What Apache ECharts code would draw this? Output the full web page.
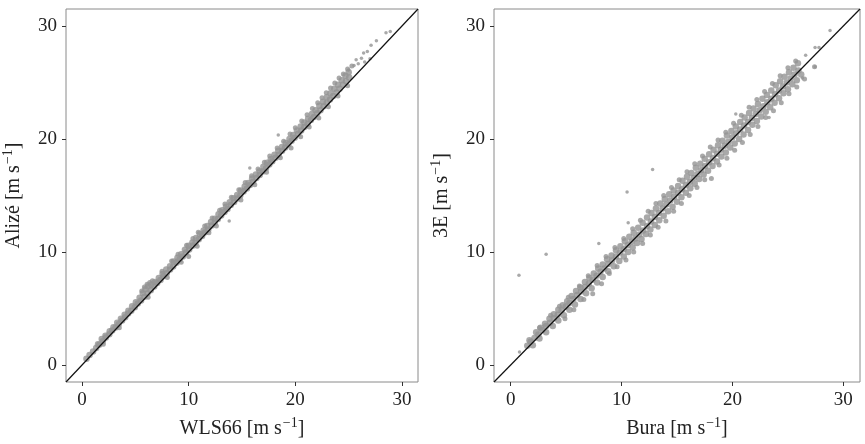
<!DOCTYPE html>
<html>
<head>
<meta charset="utf-8">
<script src="https://cdn.jsdelivr.net/npm/echarts@6/dist/echarts.min.js"></script>
<style>
  html, body { margin: 0; padding: 0; background: #fff; }
  #chart { width: 865px; height: 444px; }
</style>
</head>
<body>
<div id="chart"></div>
<script>
// tick labels shared by both panels
var tickValues = [0, 10, 20, 30];
var axisRange = [-1.5, 31.5];
var oneToOne = [[-1.5, -1.5], [31.5, 31.5]];

// left panel: WLS66 (x) vs Alizé (y)
var alizeNear = [[0.42,0.55],[0.71,0.88],[1.04,1.2],[1.33,1.5],[1.62,1.8],[1.95,2.1],[2.24,2.43],[2.56,2.72],[2.83,3.05],[3.15,3.32],[3.44,3.6],[3.76,3.95],[4.05,4.22],[4.33,4.55],[4.62,4.8],[4.95,5.12],[5.23,5.45],[5.54,5.72],[5.86,6.05],[6.14,6.35],[6.45,6.62],[6.77,6.95],[7.05,7.25],[7.36,7.52],[7.64,7.85],[7.95,8.12],[8.26,8.45],[8.55,8.72],[8.86,9.05],[9.14,9.33],[9.45,9.6],[9.76,9.95],[10.05,10.22],[10.36,10.55],[10.64,10.8],[10.95,11.14],[11.26,11.42],[11.55,11.75],[11.84,12.0],[12.16,12.35],[12.45,12.6],[12.74,12.93],[13.05,13.22],[13.36,13.55],[13.64,13.8],[13.95,14.15],[14.26,14.42],[14.55,14.74],[14.84,15.0],[15.15,15.35],[15.46,15.62],[15.75,15.93],[16.04,16.22],[16.35,16.55],[16.66,16.82],[16.94,17.13],[17.25,17.42],[17.56,17.75],[17.84,18.02],[18.15,18.35],[18.44,18.6],[18.76,18.95],[19.05,19.25],[19.34,19.52],[19.65,19.85],[19.94,20.12],[20.26,20.46],[20.55,20.75],[20.84,21.05],[21.15,21.33],[21.46,21.68],[21.74,21.95],[22.05,22.28],[22.36,22.55],[22.66,22.9],[22.95,23.2],[23.25,23.5],[23.55,23.8],[23.86,24.12],[24.15,24.45],[24.46,24.8],[24.75,25.1],[25.05,25.45]];
var alizeMid = [[1.5,1.85],[1.85,2.3],[2.2,2.6],[2.6,3.0],[2.95,3.35],[3.3,3.75],[3.65,4.1],[4.0,4.45],[4.35,4.8],[4.7,5.2],[5.05,5.55],[5.4,5.95],[5.7,6.35],[5.95,6.7],[6.2,6.95],[6.5,7.1],[6.85,7.35],[7.2,7.7],[7.55,8.05],[7.9,8.45],[8.25,8.75],[8.6,9.15],[8.95,9.5],[9.3,9.8],[9.65,10.2],[10.0,10.55],[10.35,10.85],[10.7,11.25],[11.05,11.6],[11.4,11.9],[11.75,12.3],[12.1,12.65],[12.45,12.95],[12.8,13.35],[13.15,13.7],[13.5,14.0],[13.85,14.4],[14.2,14.75],[14.55,15.05],[14.9,15.45],[15.25,15.8],[15.6,16.1],[15.95,16.5],[16.3,16.85],[16.65,17.15],[17.0,17.55],[17.35,17.9],[17.7,18.2],[18.05,18.6],[18.4,18.95],[18.75,19.3],[19.1,19.65],[19.45,20.0],[19.8,20.35],[20.15,20.75],[20.5,21.1],[20.85,21.45],[21.2,21.8],[21.55,22.2],[21.9,22.55],[22.25,22.95],[22.6,23.3],[22.95,23.7],[23.3,24.05],[23.65,24.45],[24.0,24.8],[24.35,25.2],[24.7,25.6],[25.0,25.9]];
var alizeHigh = [[5.6,6.55],[5.85,6.9],[6.1,7.15],[6.35,7.3],[6.6,7.45],[7.5,8.3],[8.4,9.2],[9.0,9.8],[9.8,10.6],[10.4,11.2],[10.9,11.75],[11.5,12.3],[12.2,13.0],[12.9,13.7],[13.4,14.25],[14.0,14.85],[14.7,15.5],[15.3,16.15],[15.9,16.75],[16.5,17.35],[17.1,17.95],[17.6,18.5],[18.3,19.2],[18.9,19.8],[19.5,20.45],[20.0,21.0],[20.6,21.6],[21.1,22.15],[21.6,22.7],[22.1,23.2],[22.5,23.65],[22.9,24.1],[23.3,24.5],[23.7,24.95],[24.1,25.4],[24.5,25.75],[24.9,26.2],[25.3,26.45]];
var alizeLow = [[2.0,1.85],[3.5,3.3],[6.2,6.0],[8.0,7.75],[9.3,9.1],[10.0,9.6],[10.8,10.5],[11.9,11.7],[12.6,12.3],[14.9,14.6],[16.2,15.95],[17.3,17.05],[18.6,18.35],[19.6,19.2],[20.5,20.2],[21.3,21.05],[22.2,21.85],[23.1,22.85],[24.0,23.8],[24.9,24.7]];
var alizeStray = [[13.8,12.75],[15.73,17.43],[18.4,20.35],[25.0,26.1],[25.5,26.5],[25.7,27.0],[25.9,26.65],[26.2,27.15],[26.4,27.6],[26.5,26.8],[26.75,27.75],[27.0,27.1],[27.1,28.3],[27.6,28.7],[28.5,29.4],[28.9,29.5]];

// right panel: Bura (x) vs 3E (y)
var e3Core = [[1.5,1.7],[1.8,2.05],[2.15,2.4],[2.5,2.7],[2.85,3.1],[3.2,3.45],[3.55,3.75],[3.9,4.15],[4.25,4.45],[4.6,4.85],[4.95,5.15],[5.3,5.5],[5.65,5.85],[6.0,6.2],[6.35,6.5],[6.7,6.9],[7.05,7.2],[7.4,7.55],[7.75,7.9],[8.1,8.25],[8.45,8.55],[8.8,8.95],[9.15,9.25],[9.5,9.6],[9.85,9.95],[10.2,10.25],[10.55,10.6],[10.9,10.9],[11.25,11.2],[11.6,11.55],[11.95,11.9],[12.3,12.3],[12.65,12.7],[13.0,13.1],[13.35,13.45],[13.7,13.85],[14.05,14.2],[14.4,14.55],[14.75,14.9],[15.1,15.25],[15.45,15.55],[15.8,15.9],[16.15,16.2],[16.5,16.55],[16.85,16.9],[17.2,17.25],[17.55,17.6],[17.9,17.95],[18.25,18.3],[18.6,18.7],[18.95,19.05],[19.3,19.4],[19.65,19.75],[20.0,20.15],[20.35,20.5],[20.7,20.85],[21.05,21.2],[21.4,21.5],[21.75,21.85],[22.1,22.2],[22.45,22.55],[22.8,22.9],[23.15,23.25],[23.5,23.55],[23.85,23.95],[24.2,24.3],[24.55,24.65],[24.9,25.0],[25.25,25.35],[25.6,25.7],[25.95,26.05]];
var e3Above = [[1.7,2.2],[2.3,2.9],[2.7,3.3],[3.1,3.65],[3.5,4.1],[3.9,4.5],[4.3,4.9],[4.7,5.3],[5.1,5.65],[5.5,6.1],[5.9,6.55],[6.3,6.85],[6.7,7.35],[7.1,7.7],[7.5,8.1],[7.9,8.55],[8.3,8.9],[8.7,9.35],[9.1,9.7],[9.5,10.15],[9.9,10.5],[10.3,10.95],[10.7,11.35],[11.1,11.7],[11.5,12.15],[11.9,12.6],[12.3,13.05],[12.7,13.45],[13.1,13.85],[13.5,14.3],[13.9,14.7],[14.3,15.1],[14.7,15.45],[15.1,15.85],[15.5,16.3],[15.9,16.65],[16.3,17.0],[16.7,17.45],[17.1,17.8],[17.5,18.25],[17.9,18.65],[18.3,19.05],[18.7,19.45],[19.1,19.85],[19.5,20.3],[19.9,20.7],[20.3,21.1],[20.7,21.5],[21.1,21.9],[21.5,22.3],[21.9,22.7],[22.3,23.1],[22.7,23.55],[23.1,23.9],[23.5,24.3],[23.9,24.75],[24.3,25.1],[24.7,25.5],[25.1,25.9],[25.5,26.3],[25.9,26.7]];
var e3Below = [[2.0,1.75],[2.6,2.35],[3.2,2.9],[3.8,3.45],[4.3,3.95],[4.8,4.4],[5.3,4.9],[5.8,5.35],[6.3,5.85],[6.8,6.35],[7.3,6.8],[7.8,7.3],[8.3,7.8],[8.8,8.3],[9.3,8.75],[9.8,9.2],[10.2,9.6],[10.6,10.0],[11.0,10.4],[11.4,10.8],[11.8,11.15],[12.2,11.6],[12.6,12.0],[13.0,12.4],[13.4,12.8],[13.8,13.2],[14.2,13.6],[14.6,14.0],[15.0,14.45],[15.4,14.85],[15.8,15.25],[16.2,15.65],[16.6,16.05],[17.0,16.45],[17.4,16.85],[17.8,17.2],[18.2,17.6],[18.6,18.0],[19.0,18.45],[19.4,18.8],[19.8,19.25],[20.2,19.6],[20.6,20.0],[21.0,20.4],[21.4,20.8],[21.8,21.25],[22.2,21.6],[22.6,22.0],[23.0,22.4],[23.4,22.8],[23.8,23.2],[24.2,23.6],[24.6,24.05],[25.0,24.4],[25.4,24.85],[25.8,25.2],[26.2,25.7]];
var e3FarAbove = [[2.6,3.3],[3.6,4.4],[4.4,5.2],[5.2,6.0],[6.2,7.0],[7.0,7.9],[7.8,8.8],[8.6,9.6],[9.4,10.4],[10.2,11.2],[11.0,12.05],[11.7,12.8],[12.4,13.6],[13.1,14.3],[13.8,15.0],[14.5,15.7],[15.2,16.4],[15.9,17.1],[16.6,17.8],[17.3,18.5],[18.0,19.3],[18.7,19.9],[19.4,20.6],[20.1,21.4],[20.8,22.1],[21.5,22.8],[22.2,23.5],[22.9,24.2],[23.6,24.9],[24.3,25.6],[25.0,26.3],[25.7,26.9]];
var e3FarBelow = [[4.9,4.1],[5.7,4.9],[6.6,5.8],[7.4,6.3],[8.2,7.2],[8.9,8.1],[9.6,8.7],[10.4,9.3],[11.1,10.0],[11.9,10.75],[12.6,11.5],[13.3,12.2],[14.0,12.75],[14.7,13.6],[15.4,14.3],[16.1,15.0],[16.8,15.7],[17.5,16.4],[18.1,16.5],[18.8,17.7],[19.5,18.3],[20.2,19.0],[20.9,19.7],[21.6,20.4],[22.3,21.1],[23.0,21.9],[23.7,22.5],[24.4,23.2],[25.1,24.0],[25.8,24.6],[26.5,25.3],[27.4,26.4]];
var e3Stray = [[0.75,7.95],[3.2,9.8],[0.8,1.15],[7.95,10.75],[10.5,15.3],[10.6,12.6],[12.8,17.3],[20.3,22.2],[23.3,21.9],[26.3,25.4],[26.6,27.4],[27.45,26.4],[27.45,28.1],[27.8,28.1],[28.8,29.6]];

var serif = 'Liberation Serif';
var ptColor = '#939393';

function axisName(label) {
    return '{n|' + label + ' [m s}{s|\u22121}{n|]}';
}
var nameRich = {
    n: { fontFamily: serif, fontSize: 20, color: '#222', lineHeight: 23, verticalAlign: 'bottom' },
    s: { fontFamily: serif, fontSize: 14, color: '#222', lineHeight: 23, verticalAlign: 'top', padding: [0, 0, 0, 1] }
};

function makeAxis(idx, label, isY) {
    return {
        type: 'value',
        gridIndex: idx,
        min: axisRange[0],
        max: axisRange[1],
        name: axisName(label),
        nameLocation: 'middle',
        nameGap: isY ? 42 : 34,
        nameRotate: isY ? 90 : 0,
        nameTextStyle: { rich: nameRich },
        splitLine: { show: false },
        axisLine: { show: false, onZero: false },
        axisTick: { show: true, length: 4, customValues: tickValues, lineStyle: { color: '#333' } },
        axisLabel: { customValues: tickValues, fontFamily: serif, fontSize: 19, color: '#222', margin: 9 }
    };
}

function pts(xi, data, size, z) {
    return {
        type: 'scatter',
        xAxisIndex: xi, yAxisIndex: xi,
        symbolSize: size,
        itemStyle: { color: ptColor },
        data: data,
        z: z
    };
}

var chart = echarts.init(document.getElementById('chart'));
chart.setOption({
    animation: false,
    grid: [
        { left: 52, top: 9, width: 366, height: 383, show: true, borderColor: '#8a8a8a', borderWidth: 1 },
        { left: 494, top: 9, width: 366, height: 383, show: true, borderColor: '#8a8a8a', borderWidth: 1 }
    ],
    xAxis: [makeAxis(0, 'WLS66', false), makeAxis(1, 'Bura', false)],
    yAxis: [makeAxis(0, 'Alizé', true), makeAxis(1, '3E', true)],
    series: [
        pts(0, alizeNear.concat(alizeMid), 6.5, 2),
        pts(0, alizeHigh.concat(alizeLow), 5, 2),
        pts(0, alizeStray, 3.5, 2),
        pts(1, e3Core.concat(e3Above, e3Below), 6.5, 2),
        pts(1, e3FarAbove.concat(e3FarBelow), 5, 2),
        pts(1, e3Stray, 3.5, 2),
        {
            type: 'line',
            xAxisIndex: 0, yAxisIndex: 0,
            symbol: 'none',
            lineStyle: { color: '#111', width: 1.2 },
            data: oneToOne,
            z: 5
        }, {
            type: 'line',
            xAxisIndex: 1, yAxisIndex: 1,
            symbol: 'none',
            lineStyle: { color: '#111', width: 1.2 },
            data: oneToOne,
            z: 5
        }
    ]
});
</script>
</body>
</html>
